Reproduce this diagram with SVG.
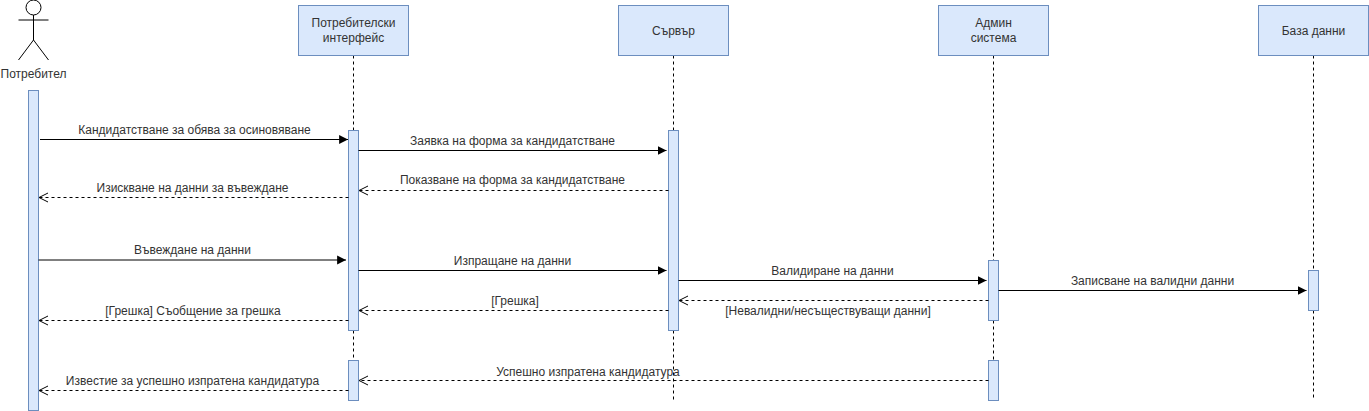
<svg xmlns="http://www.w3.org/2000/svg" width="1369" height="411" viewBox="0 0 1369 411">
<style>
text{font-family:"Liberation Sans",Arial,Helvetica,sans-serif;font-size:12px;fill:#333;text-anchor:middle}
.box{fill:#dae8fc;stroke:#6c8ebf;stroke-width:1}
.life{stroke:#000;stroke-width:1;stroke-dasharray:3 3;fill:none}
.sync{stroke:#000;stroke-width:1;fill:none;marker-end:url(#solid)}
.ret{stroke:#000;stroke-width:1;stroke-dasharray:3 3;fill:none;marker-end:url(#open)}
.actor{stroke:#000;stroke-width:1;fill:none}
</style>
<defs>
<marker id="solid" markerUnits="userSpaceOnUse" markerWidth="10" markerHeight="10" refX="8" refY="4" orient="auto" viewBox="0 0 9 8"><path d="M0 0 L8 4 L0 8 Z" fill="#000"/></marker>
<marker id="open" markerUnits="userSpaceOnUse" markerWidth="12" markerHeight="12" refX="11" refY="6" orient="auto" viewBox="0 0 12 12"><path d="M2 1.5 L11 6 L2 10.5" fill="none" stroke="#000"/></marker>
</defs>
<g id="lifelines">
<path class="life" d="M353.5 55.5V130.5M353.5 330.5V360.5"/>
<path class="life" d="M673.5 55.5V130.5M673.5 330.5V400.5"/>
<path class="life" d="M993.5 55.5V260.5M993.5 320.5V360.5"/>
<path class="life" d="M1313.5 55.5V270.5M1313.5 310.5V400.5"/>
</g>
<g id="actor-user">
<circle class="actor" cx="33.5" cy="7.5" r="7.5"/>
<path class="actor" d="M33.5 15V40M18.5 20H48.5M18.5 60L33.5 40L48.5 60"/>
<text x="33.5" y="78">Потребител</text>
<rect class="box" x="28.5" y="90.5" width="10" height="320"/>
</g>
<g id="node-ui">
<rect class="box" x="298.5" y="5.5" width="110" height="50"/>
<text x="353.5" y="27">Потребителски</text>
<text x="353.5" y="42">интерфейс</text>
<rect class="box" x="348.5" y="130.5" width="10" height="200"/>
<rect class="box" x="348.5" y="360.5" width="10" height="40"/>
</g>
<g id="node-server">
<rect class="box" x="618.5" y="5.5" width="110" height="50"/>
<text x="673.5" y="34.5">Сървър</text>
<rect class="box" x="668.5" y="130.5" width="10" height="200"/>
</g>
<g id="node-admin">
<rect class="box" x="938.5" y="5.5" width="110" height="50"/>
<text x="993.5" y="27">Админ</text>
<text x="993.5" y="42">система</text>
<rect class="box" x="988.5" y="260.5" width="10" height="60"/>
<rect class="box" x="988.5" y="360.5" width="10" height="40"/>
</g>
<g id="node-db">
<rect class="box" x="1258.5" y="5.5" width="110" height="50"/>
<text x="1313.5" y="34.5">База данни</text>
<rect class="box" x="1308.5" y="270.5" width="10" height="40"/>
</g>
<g id="connectors">
<path class="sync" d="M40 139.5H348"/>
<path class="sync" d="M358.5 150.5H666.5"/>
<path class="ret" d="M668.5 190.5H359"/>
<path class="ret" d="M348.5 197.5H39"/>
<path class="sync" d="M38.5 260H346"/>
<path class="sync" d="M358.5 270.5H666.5"/>
<path class="sync" d="M678.5 280.5H986.5"/>
<path class="sync" d="M998.5 290.5H1306.5"/>
<path class="ret" d="M988.5 300.5H679"/>
<path class="ret" d="M668.5 310.5H359"/>
<path class="ret" d="M348.5 320.5H39"/>
<path class="ret" d="M988.5 380.5H359"/>
<path class="ret" d="M348.5 390.5H39"/>
</g>
<g id="labels">
<text x="194.5" y="134">Кандидатстване за обява за осиновяване</text>
<text x="512.5" y="145">Заявка на форма за кандидатстване</text>
<text x="512.5" y="184">Показване на форма за кандидатстване</text>
<text x="192.5" y="192">Изискване на данни за въвеждане</text>
<text x="192.5" y="254">Въвеждане на данни</text>
<text x="512.5" y="265">Изпращане на данни</text>
<text x="832.5" y="275">Валидиране на данни</text>
<text x="1152.5" y="285">Записване на валидни данни</text>
<text x="828" y="315">[Невалидни/несъществуващи данни]</text>
<text x="515" y="305">[Грешка]</text>
<text x="193" y="315">[Грешка] Съобщение за грешка</text>
<text x="588" y="375.5">Успешно изпратена кандидатура</text>
<text x="192.5" y="385">Известие за успешно изпратена кандидатура</text>
</g>
</svg>
